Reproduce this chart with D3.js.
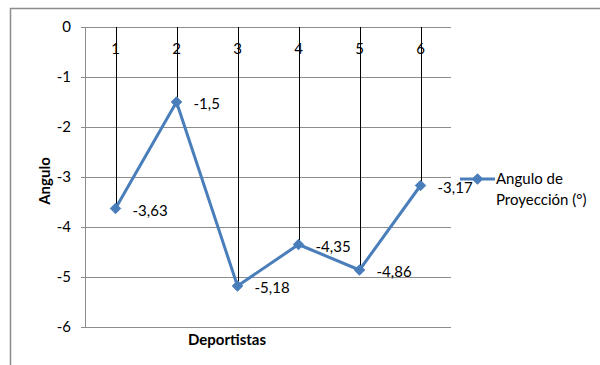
<!DOCTYPE html>
<html><head><meta charset="utf-8">
<script src="https://cdn.jsdelivr.net/npm/d3@7"></script>
<style>body{margin:0;background:#fff}svg{display:block}text{font-family:Lato,"Open Sans",sans-serif}</style>
</head><body>
<svg id="c" width="600" height="365"></svg>
<script>
const categories = ["1","2","3","4","5","6"];
const values = [-3.63, -1.5, -5.18, -4.35, -4.86, -3.17];
const labels = ["-3,63","-1,5","-5,18","-4,35","-4,86","-3,17"];
const yTicks = [0,-1,-2,-3,-4,-5,-6];
const seriesName = ["Angulo de","Proyección (°)"];

const svg = d3.select("#c");
svg.append("rect").attr("x",10.5).attr("y",8.5).attr("width",600).attr("height",400)
  .attr("fill","#fff").attr("stroke","#8c8c8c").attr("stroke-width",1.5);

const L=85, R=451, T=27, B=327;
const FS=15;
const x = d3.scaleBand().domain(categories).range([L,R]);
const y = d3.scaleLinear().domain([-6,0]).range([B,T]);
const cx = d => x(d)+x.bandwidth()/2;

// gridlines
svg.append("g").selectAll("line").data(yTicks).join("line")
  .attr("x1",L-4).attr("x2",R).attr("y1",d=>Math.round(y(d))+0.5).attr("y2",d=>Math.round(y(d))+0.5)
  .attr("stroke","#8c8c8c").attr("stroke-width",1);
// y axis line
svg.append("line").attr("x1",L+0.5).attr("x2",L+0.5).attr("y1",T).attr("y2",B).attr("stroke","#8c8c8c");

// y tick labels
svg.append("g").selectAll("text").data(yTicks).join("text")
  .attr("x",71).attr("y",d=>y(d)).attr("dy","0.35em").attr("text-anchor","end")
  .attr("font-size",FS).attr("fill","#000").text(d=>d===0?"0":"-"+Math.abs(d));

// drop lines
svg.append("g").selectAll("line").data(categories).join("line")
  .attr("x1",d=>Math.round(cx(d))+0.5).attr("x2",d=>Math.round(cx(d))+0.5)
  .attr("y1",y(0)).attr("y2",(d,i)=>y(values[i])).attr("stroke","#000").attr("stroke-width",1);

// category labels
svg.append("g").selectAll("text").data(categories).join("text")
  .attr("x",d=>cx(d)).attr("y",54).attr("text-anchor","middle")
  .attr("font-size",FS).attr("fill","#000").text(d=>d);

// series line
const line = d3.line().x((d,i)=>cx(categories[i])).y(d=>y(d));
svg.append("path").datum(values).attr("d",line).attr("fill","none")
  .attr("stroke","#4a7ebb").attr("stroke-width",3).attr("stroke-linejoin","round");
const diamond = d3.symbol().type(d3.symbolDiamond2).size(70);
svg.append("g").selectAll("path").data(values).join("path")
  .attr("d",diamond).attr("transform",(d,i)=>`translate(${cx(categories[i])},${y(d)})`)
  .attr("fill","#4a7ebb").attr("stroke","#4a7ebb");

// data labels
svg.append("g").selectAll("text").data(values).join("text")
  .attr("x",(d,i)=>cx(categories[i])+17).attr("y",d=>y(d)+2).attr("dy","0.35em")
  .attr("font-size",FS).attr("fill","#000").text((d,i)=>labels[i]);

// axis titles
svg.append("text").attr("x",227).attr("y",345).attr("text-anchor","middle")
  .attr("font-size",FS).attr("font-weight","bold").text("Deportistas");
svg.append("text").attr("transform","translate(50,181) rotate(-90)").attr("text-anchor","middle")
  .attr("font-size",FS).attr("font-weight","bold").text("Angulo");

// legend
const lg = svg.append("g");
lg.append("line").attr("x1",460).attr("x2",495).attr("y1",179).attr("y2",179).attr("stroke","#4a7ebb").attr("stroke-width",3);
lg.append("path").attr("d",diamond).attr("transform","translate(477.5,179)").attr("fill","#4a7ebb").attr("stroke","#4a7ebb");
lg.selectAll("text").data(seriesName).join("text")
  .attr("x",496).attr("y",(d,i)=>179+i*21).attr("dy","0.35em").attr("font-size",FS).attr("fill","#000").text(d=>d);
</script>
</body></html>
